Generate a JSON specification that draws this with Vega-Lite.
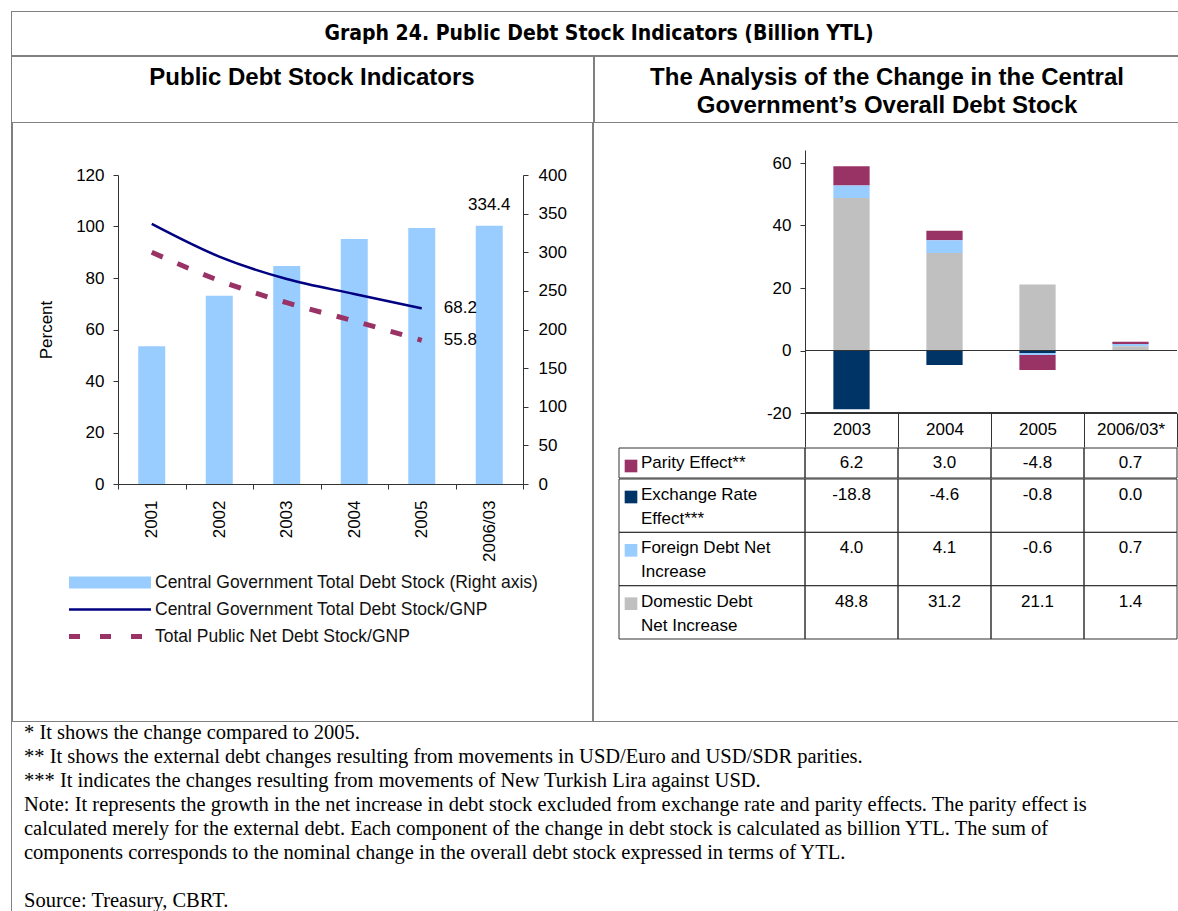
{
  "$schema": "https://vega.github.io/schema/vega-lite/v6.json",
  "padding": {"left": 10, "top": 10, "right": 0, "bottom": 0},
  "background": "white",
  "spacing": -1.5,
  "config": {
    "view": {"stroke": null},
    "font": "Liberation Sans",
    "locale": {"number": {"decimal": ".", "thousands": ",", "grouping": [3], "currency": ["$", ""], "minus": "-"}},
    "axis": {"labelColor": "#000", "titleColor": "#000", "domainColor": "#333", "tickColor": "#333", "grid": false, "labelFontSize": 17, "titleFontSize": 17, "titleFontWeight": "normal"}
  },
  "datasets": {
    "left": [
      {"year": "2001", "stock": 178.3, "cg": 101.0, "net": 90.0},
      {"year": "2002", "stock": 243.8, "cg": 88.3, "net": 79.0},
      {"year": "2003", "stock": 282.2, "cg": 79.6, "net": 70.4},
      {"year": "2004", "stock": 317.2, "cg": 73.8, "net": 63.3},
      {"year": "2005", "stock": 331.4, "cg": 68.2, "net": 55.8},
      {"year": "2006/03", "stock": 334.4, "cg": null, "net": null}
    ],
    "comp": [
      {"year": "2003", "comp": "Parity Effect**", "value": 6.2},
      {"year": "2003", "comp": "Exchange Rate Effect***", "value": -18.8},
      {"year": "2003", "comp": "Foreign Debt Net Increase", "value": 4.0},
      {"year": "2003", "comp": "Domestic Debt Net Increase", "value": 48.8},
      {"year": "2004", "comp": "Parity Effect**", "value": 3.0},
      {"year": "2004", "comp": "Exchange Rate Effect***", "value": -4.6},
      {"year": "2004", "comp": "Foreign Debt Net Increase", "value": 4.1},
      {"year": "2004", "comp": "Domestic Debt Net Increase", "value": 31.2},
      {"year": "2005", "comp": "Parity Effect**", "value": -4.8},
      {"year": "2005", "comp": "Exchange Rate Effect***", "value": -0.8},
      {"year": "2005", "comp": "Foreign Debt Net Increase", "value": -0.6},
      {"year": "2005", "comp": "Domestic Debt Net Increase", "value": 21.1},
      {"year": "2006/03*", "comp": "Parity Effect**", "value": 0.7},
      {"year": "2006/03*", "comp": "Exchange Rate Effect***", "value": 0.0},
      {"year": "2006/03*", "comp": "Foreign Debt Net Increase", "value": 0.7},
      {"year": "2006/03*", "comp": "Domestic Debt Net Increase", "value": 1.4}
    ],
    "rows": [
      {"comp": "Parity Effect**", "label": "Parity Effect**"},
      {"comp": "Exchange Rate Effect***", "label": "Exchange Rate\nEffect***"},
      {"comp": "Foreign Debt Net Increase", "label": "Foreign Debt Net\nIncrease"},
      {"comp": "Domestic Debt Net Increase", "label": "Domestic Debt\nNet Increase"}
    ]
  },
  "vconcat": [
    {
      "width": 1168, "height": 44,
      "view": {"stroke": "#000", "strokeDash": [1, 1], "strokeWidth": 1},
      "data": {"values": [{"t": "Graph 24. Public Debt Stock Indicators (Billion YTL)"}]},
      "mark": {"type": "text", "font": "DejaVu Sans Condensed", "fontWeight": "bold", "fontSize": 21, "baseline": "middle", "dx": 4, "dy": 1},
      "encoding": {"text": {"field": "t"}}
    },
    {
      "spacing": -1.5,
      "hconcat": [
        {
          "width": 582, "height": 66,
          "view": {"stroke": "#000", "strokeDash": [1, 1], "strokeWidth": 1},
          "data": {"values": [{"t": "Public Debt Stock Indicators"}]},
          "mark": {"type": "text", "fontWeight": "bold", "fontSize": 24, "baseline": "middle", "dx": 10, "dy": -11},
          "encoding": {"text": {"field": "t"}}
        },
        {
          "width": 586, "height": 66,
          "view": {"stroke": "#000", "strokeDash": [1, 1], "strokeWidth": 1},
          "data": {"values": [{"t": "The Analysis of the Change in the Central\nGovernment’s Overall Debt Stock"}]},
          "mark": {"type": "text", "fontWeight": "bold", "fontSize": 24, "baseline": "middle", "lineBreak": "\n", "lineHeight": 28, "dy": -11},
          "encoding": {"text": {"field": "t"}}
        }
      ]
    },
    {
      "spacing": 24,
      "hconcat": [
        {
          "width": 1, "height": 597,
          "view": {"stroke": "#000", "strokeDash": [1, 1], "strokeWidth": 1},
          "data": {"values": []},
          "mark": "point",
          "encoding": {}
        },
        {
          "spacing": 7,
          "vconcat": [
            {
              "width": 1, "height": 36,
              "data": {"values": []},
              "mark": "point",
              "encoding": {}
            },
            {
              "width": 405, "height": 309,
              "data": {"name": "left"},
              "encoding": {
                "x": {"field": "year", "type": "nominal", "scale": {"domain": ["2001", "2002", "2003", "2004", "2005", "2006/03"], "paddingInner": 0, "paddingOuter": 0},
                      "axis": {"title": null, "labelAngle": -90, "tickBand": "extent", "tickSize": 5, "labelPadding": 11}}
              },
              "layer": [
                {
                  "encoding": {
                    "y": {"field": "stock", "type": "quantitative", "scale": {"domain": [0, 400], "nice": false},
                          "axis": {"orient": "right", "title": null, "values": [0, 50, 100, 150, 200, 250, 300, 350, 400], "tickSize": 5, "labelPadding": 10, "labelOverlap": false}}
                  },
                  "layer": [
                    {"mark": {"type": "bar", "color": "#99CCFF", "width": {"band": 0.4}}},
                    {
                      "transform": [{"filter": "datum.year === '2006/03'"}],
                      "mark": {"type": "text", "fontSize": 17, "dy": -21},
                      "encoding": {"text": {"field": "stock", "type": "quantitative", "format": ".1f"}}
                    }
                  ]
                },
                {
                  "layer": [
                    {
                      "mark": {"type": "line", "color": "#000080", "strokeWidth": 2.5, "interpolate": "monotone"},
                      "encoding": {
                        "y": {"field": "cg", "type": "quantitative", "scale": {"domain": [0, 120], "nice": false},
                              "axis": {"orient": "left", "title": "Percent", "values": [0, 20, 40, 60, 80, 100, 120], "tickSize": 5, "labelPadding": 9, "titlePadding": 20, "labelOverlap": false}}
                      }
                    },
                    {
                      "mark": {"type": "line", "color": "#993366", "strokeWidth": 5, "strokeDash": [12, 16], "interpolate": "monotone"},
                      "encoding": {
                        "y": {"field": "net", "type": "quantitative", "scale": {"domain": [0, 120], "nice": false},
                              "axis": {"orient": "left", "title": "Percent", "values": [0, 20, 40, 60, 80, 100, 120], "tickSize": 5, "labelPadding": 9, "titlePadding": 20, "labelOverlap": false}}
                      }
                    },
                    {
                      "transform": [{"filter": "datum.year === '2005'"}],
                      "mark": {"type": "text", "fontSize": 17, "align": "left", "dx": 22},
                      "encoding": {
                        "y": {"field": "cg", "type": "quantitative", "scale": {"domain": [0, 120], "nice": false},
                              "axis": {"orient": "left", "title": "Percent", "values": [0, 20, 40, 60, 80, 100, 120], "tickSize": 5, "labelPadding": 9, "titlePadding": 20, "labelOverlap": false}},
                        "text": {"field": "cg", "type": "quantitative", "format": ".1f"}
                      }
                    },
                    {
                      "transform": [{"filter": "datum.year === '2005'"}],
                      "mark": {"type": "text", "fontSize": 17, "align": "left", "dx": 22},
                      "encoding": {
                        "y": {"field": "net", "type": "quantitative", "scale": {"domain": [0, 120], "nice": false},
                              "axis": {"orient": "left", "title": "Percent", "values": [0, 20, 40, 60, 80, 100, 120], "tickSize": 5, "labelPadding": 9, "titlePadding": 20, "labelOverlap": false}},
                        "text": {"field": "net", "type": "quantitative", "format": ".1f"}
                      }
                    }
                  ]
                }
              ],
              "resolve": {"scale": {"y": "independent"}}
            },
            {
              "width": 400, "height": 81,
              "data": {"values": [
                {"series": "Central Government Total Debt Stock (Right axis)", "kind": "bar"},
                {"series": "Central Government Total Debt Stock/GNP", "kind": "solid"},
                {"series": "Total Public Net Debt Stock/GNP", "kind": "dash"}
              ]},
              "encoding": {
                "y": {"field": "series", "type": "nominal", "sort": null, "axis": null, "scale": {"type": "band", "paddingInner": 0, "paddingOuter": 0}}
              },
              "layer": [
                {
                  "transform": [{"filter": "datum.kind === 'bar'"}],
                  "mark": {"type": "bar", "color": "#99CCFF", "height": {"band": 0.45}},
                  "encoding": {
                    "x": {"datum": -49, "type": "quantitative", "scale": {"domain": [0, 400], "nice": false, "zero": false}, "axis": null},
                    "x2": {"datum": 33}
                  }
                },
                {
                  "transform": [{"filter": "datum.kind === 'solid'"}],
                  "mark": {"type": "rule", "color": "#000080", "strokeWidth": 2.5},
                  "encoding": {"x": {"datum": -49, "type": "quantitative"}, "x2": {"datum": 33}}
                },
                {
                  "transform": [{"filter": "datum.kind === 'dash'"}],
                  "mark": {"type": "rule", "color": "#993366", "strokeWidth": 5, "strokeDash": [11, 20]},
                  "encoding": {"x": {"datum": -49, "type": "quantitative"}, "x2": {"datum": 33}}
                },
                {
                  "mark": {"type": "text", "align": "left", "baseline": "middle", "fontSize": 17.5, "color": "#111"},
                  "encoding": {"x": {"datum": 37, "type": "quantitative"}, "text": {"field": "series"}}
                }
              ]
            }
          ]
        },
        {
          "width": 1, "height": 597,
          "view": {"stroke": "#000", "strokeDash": [1, 1], "strokeWidth": 1},
          "data": {"values": []},
          "mark": "point",
          "encoding": {}
        },
        {
          "spacing": -1,
          "vconcat": [
            {
              "width": 1, "height": 27,
              "data": {"values": []},
              "mark": "point",
              "encoding": {}
            },
            {
              "width": 558, "height": 263,
              "data": {"name": "comp"},
              "encoding": {
                "x": {"field": "year", "type": "nominal", "scale": {"domain": ["2003", "2004", "2005", "2006/03*"], "paddingInner": 0, "paddingOuter": 1.0, "align": 1},
                      "axis": {"title": null, "domain": false, "tickBand": "extent", "tickSize": 34, "labelPadding": -26, "labelAngle": 0}}
              },
              "layer": [
                {
                  "mark": {"type": "bar", "width": {"band": 0.39}},
                  "encoding": {
                    "y": {"field": "value", "type": "quantitative", "stack": "zero", "scale": {"domain": [-20, 64.16], "nice": false, "zero": false},
                          "axis": {"title": null, "values": [-20, 0, 20, 40, 60], "offset": -186, "tickSize": 5, "labelPadding": 9}},
                    "color": {"field": "comp", "type": "nominal", "legend": null,
                              "scale": {"domain": ["Parity Effect**", "Exchange Rate Effect***", "Foreign Debt Net Increase", "Domestic Debt Net Increase"], "range": ["#993366", "#003366", "#99CCFF", "#C0C0C0"]}},
                    "order": {"field": "comp", "sort": "ascending"}
                  }
                },
                {
                  "mark": {"type": "rect", "fill": "transparent", "stroke": "#333", "strokeWidth": 1},
                  "encoding": {"y": {"datum": 0}, "y2": {"datum": 0}}
                },
                {
                  "mark": {"type": "rect", "fill": "transparent", "stroke": "#333", "strokeWidth": 1},
                  "encoding": {"y": {"datum": -20}, "y2": {"datum": -20}}
                }
              ]
            },
            {
              "width": 558, "height": 30,
              "layer": [
                {
                  "data": {"name": "comp"},
                  "transform": [{"filter": "datum.comp === 'Parity Effect**'"}],
                  "encoding": {
                    "x": {"field": "year", "type": "nominal", "scale": {"domain": ["2003", "2004", "2005", "2006/03*"], "paddingInner": 0, "paddingOuter": 1.0, "align": 1}, "axis": null},
                    "y": {"field": "comp", "type": "nominal", "scale": {"type": "band", "domain": ["Parity Effect**"], "paddingInner": 0, "paddingOuter": 0}, "axis": null}
                  },
                  "layer": [
                    {"mark": {"type": "rect", "fill": "transparent", "stroke": "#333", "strokeWidth": 1}},
                    {
                      "mark": {"type": "text", "fontSize": 17, "baseline": "top", "dy": 7},
                      "encoding": {
                        "y": {"field": "comp", "type": "nominal", "bandPosition": 0},
                        "text": {"field": "value", "type": "quantitative", "format": ".1f"}
                      }
                    }
                  ]
                },
                {
                  "data": {"name": "rows"},
                  "transform": [{"filter": "datum.comp === 'Parity Effect**'"}],
                  "encoding": {
                    "x": {"datum": "label", "type": "nominal", "scale": {"domain": ["label"], "paddingInner": 0, "paddingOuter": 1.0, "align": 0}, "axis": null},
                    "y": {"field": "comp", "type": "nominal", "scale": {"type": "band", "domain": ["Parity Effect**"], "paddingInner": 0, "paddingOuter": 0}, "axis": null}
                  },
                  "layer": [
                    {"mark": {"type": "rect", "fill": "transparent", "stroke": "#333", "strokeWidth": 1}},
                    {
                      "mark": {"type": "square", "size": 160, "opacity": 1},
                      "encoding": {
                        "x": {"datum": "label", "type": "nominal", "bandPosition": 0},
                        "xOffset": {"value": 12},
                        "y": {"field": "comp", "type": "nominal", "bandPosition": 0},
                        "yOffset": {"value": 18},
                        "color": {"field": "comp", "type": "nominal", "legend": null,
                                  "scale": {"domain": ["Parity Effect**", "Exchange Rate Effect***", "Foreign Debt Net Increase", "Domestic Debt Net Increase"], "range": ["#993366", "#003366", "#99CCFF", "#C0C0C0"]}}
                      }
                    },
                    {
                      "mark": {"type": "text", "align": "left", "baseline": "top", "dx": 22, "dy": 7, "fontSize": 17, "lineBreak": "\n", "lineHeight": 24},
                      "encoding": {
                        "x": {"datum": "label", "type": "nominal", "bandPosition": 0},
                        "y": {"field": "comp", "type": "nominal", "bandPosition": 0},
                        "text": {"field": "label"}
                      }
                    }
                  ]
                }
              ],
              "resolve": {"scale": {"x": "independent"}}
            },
            {
              "width": 558, "height": 160,
              "layer": [
                {
                  "data": {"name": "comp"},
                  "transform": [{"filter": "datum.comp !== 'Parity Effect**'"}],
                  "encoding": {
                    "x": {"field": "year", "type": "nominal", "scale": {"domain": ["2003", "2004", "2005", "2006/03*"], "paddingInner": 0, "paddingOuter": 1.0, "align": 1}, "axis": null},
                    "y": {"field": "comp", "type": "nominal", "scale": {"type": "band", "domain": ["Exchange Rate Effect***", "Foreign Debt Net Increase", "Domestic Debt Net Increase"], "paddingInner": 0, "paddingOuter": 0}, "axis": null}
                  },
                  "layer": [
                    {"mark": {"type": "rect", "fill": "transparent", "stroke": "#333", "strokeWidth": 1}},
                    {
                      "mark": {"type": "text", "fontSize": 17, "baseline": "top", "dy": 8},
                      "encoding": {
                        "y": {"field": "comp", "type": "nominal", "bandPosition": 0},
                        "text": {"field": "value", "type": "quantitative", "format": ".1f"}
                      }
                    }
                  ]
                },
                {
                  "data": {"name": "rows"},
                  "transform": [{"filter": "datum.comp !== 'Parity Effect**'"}],
                  "encoding": {
                    "x": {"datum": "label", "type": "nominal", "scale": {"domain": ["label"], "paddingInner": 0, "paddingOuter": 1.0, "align": 0}, "axis": null},
                    "y": {"field": "comp", "type": "nominal", "scale": {"type": "band", "domain": ["Exchange Rate Effect***", "Foreign Debt Net Increase", "Domestic Debt Net Increase"], "paddingInner": 0, "paddingOuter": 0}, "axis": null}
                  },
                  "layer": [
                    {"mark": {"type": "rect", "fill": "transparent", "stroke": "#333", "strokeWidth": 1}},
                    {
                      "mark": {"type": "square", "size": 160, "opacity": 1},
                      "encoding": {
                        "x": {"datum": "label", "type": "nominal", "bandPosition": 0},
                        "xOffset": {"value": 12},
                        "y": {"field": "comp", "type": "nominal", "bandPosition": 0},
                        "yOffset": {"value": 18},
                        "color": {"field": "comp", "type": "nominal", "legend": null,
                                  "scale": {"domain": ["Parity Effect**", "Exchange Rate Effect***", "Foreign Debt Net Increase", "Domestic Debt Net Increase"], "range": ["#993366", "#003366", "#99CCFF", "#C0C0C0"]}}
                      }
                    },
                    {
                      "mark": {"type": "text", "align": "left", "baseline": "top", "dx": 22, "dy": 8, "fontSize": 17, "lineBreak": "\n", "lineHeight": 24},
                      "encoding": {
                        "x": {"datum": "label", "type": "nominal", "bandPosition": 0},
                        "y": {"field": "comp", "type": "nominal", "bandPosition": 0},
                        "text": {"field": "label"}
                      }
                    }
                  ]
                }
              ],
              "resolve": {"scale": {"x": "independent"}}
            }
          ]
        }
      ]
    },
    {
      "width": 1168, "height": 192,
      "view": {"stroke": "#000", "strokeDash": [1, 1], "strokeWidth": 1},
      "data": {"values": [
        {"line": 1, "text": "* It shows the change compared to 2005."},
        {"line": 2, "text": "** It shows the external debt changes resulting from movements in USD/Euro and USD/SDR parities."},
        {"line": 3, "text": "*** It indicates the changes resulting from movements of New Turkish Lira against USD."},
        {"line": 4, "text": "Note: It represents the growth in the net increase in debt stock excluded from exchange rate and parity effects. The parity effect is"},
        {"line": 5, "text": "calculated merely for the external debt. Each component of the change in debt stock is calculated as billion YTL. The sum of"},
        {"line": 6, "text": "components corresponds to the nominal change in the overall debt stock expressed in terms of YTL."},
        {"line": 8, "text": "Source: Treasury, CBRT."}
      ]},
      "mark": {"type": "text", "align": "left", "baseline": "middle", "font": "Liberation Serif", "fontSize": 20.5, "dx": 13},
      "encoding": {
        "x": {"value": 0},
        "y": {"field": "line", "type": "ordinal", "scale": {"type": "point", "domain": [1, 2, 3, 4, 5, 6, 7, 8], "padding": 0.5}, "axis": null},
        "text": {"field": "text"}
      }
    }
  ]
}
